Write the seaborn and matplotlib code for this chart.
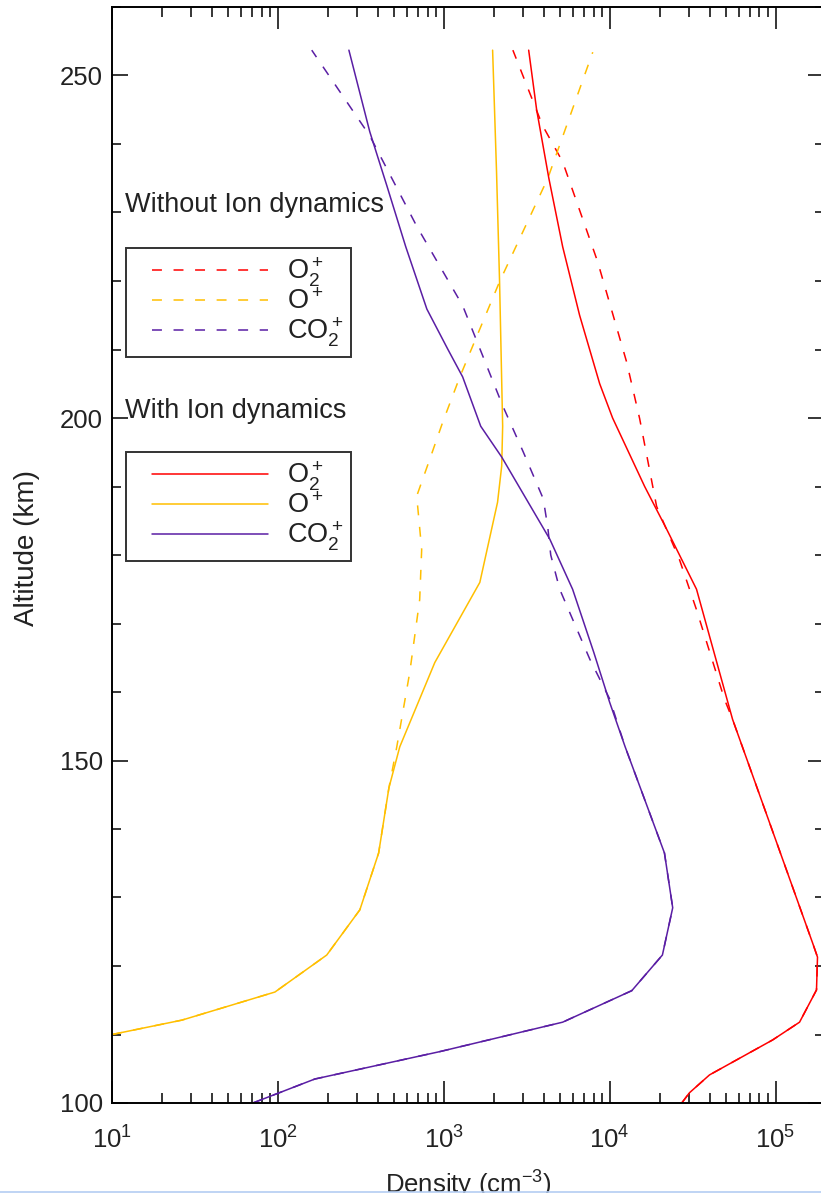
import numpy as np
import pandas as pd
import matplotlib
matplotlib.use("Agg")
import matplotlib.pyplot as plt
import seaborn as sns
from matplotlib.lines import Line2D
from matplotlib.legend_handler import HandlerLine2D
from matplotlib.ticker import MultipleLocator, LogLocator

# ---------------- data (altitude km, density cm^-3) ----------------
alt_o2p_dyn = [100, 101.5, 104.1, 109.2, 111.8, 116.5, 121.3, 123.4, 156, 175, 183.8, 190, 200, 205, 215, 225, 235, 245, 253.7]
den_o2p_dyn = [27200, 30300, 40000, 96000, 139600, 176600, 179100, 167100, 55100, 33400, 22030, 16260, 10420, 8710, 6590, 5210, 4300, 3630, 3250]

alt_o2p_nodyn = [100, 101.5, 104.1, 109.2, 111.8, 116.5, 121.3, 123.4, 156, 158.9, 172, 179.4, 187.1, 199.9, 208.2, 222.8, 237.4, 242.7, 253.7]
den_o2p_nodyn = [27200, 30300, 40000, 96000, 139600, 176600, 179100, 167100, 55100, 49300, 33400, 26300, 19190, 15170, 12650, 8470, 5210, 3940, 2610]

alt_op_dyn = [110, 112.1, 116.2, 121.6, 128.2, 136.5, 146, 152, 164.3, 176, 187.7, 193, 198.8, 219.9, 236, 253.7]
den_op_dyn = [10, 26.4, 96, 197, 312, 405, 467, 543, 883, 1650, 2110, 2235, 2265, 2170, 2080, 1970]

alt_op_nodyn = [110, 112.1, 116.2, 121.6, 128.2, 136.5, 146, 152, 162.9, 173.5, 180.8, 188.6, 194, 199.4, 206, 219.9, 235, 253.4]
den_op_nodyn = [10, 26.4, 96, 197, 312, 405, 467, 521, 624, 716, 736, 687, 824, 986, 1250, 2170, 4240, 7910]

alt_co2p_dyn = [100, 103.5, 107.5, 111.8, 116.4, 121.6, 128.5, 136.5, 152, 158.5, 165.8, 175, 182.3, 194.3, 198.8, 206, 210, 215.9, 225, 233.9, 241.8, 253.7]
den_co2p_dyn = [70.6, 167, 946, 5210, 13600, 20800, 24000, 21400, 12400, 10000, 8020, 5980, 4360, 2235, 1670, 1300, 1060, 791, 590, 454, 358, 268]

alt_co2p_nodyn = [100, 103.5, 107.5, 111.8, 116.4, 121.6, 128.5, 136.5, 152, 159, 164.8, 175, 180, 184, 188.2, 195, 201.8, 216.4, 228, 241.2, 253.7]
den_co2p_nodyn = [70.6, 167, 946, 5210, 13600, 20800, 24000, 21400, 12400, 10000, 7590, 5000, 4415, 4240, 3980, 3020, 2265, 1300, 687, 358, 160]

species = ["O$_2^+$", "O$^+$", "CO$_2^+$"]
colors = ["#ff0000", "#ffbf00", "#5a1ea4"]

# ---------------- style ----------------
sns.set_theme(style="ticks")
plt.rcParams["font.family"] = ["Liberation Sans", "DejaVu Sans"]
plt.rcParams["mathtext.fontset"] = "custom"
plt.rcParams["mathtext.rm"] = "Liberation Sans"
plt.rcParams["mathtext.it"] = "Liberation Sans:italic"
plt.rcParams["mathtext.bf"] = "Liberation Sans:bold"
plt.rcParams["axes.unicode_minus"] = False

W, H = 821, 1193
fig = plt.figure(figsize=(W / 100, H / 100), dpi=100)
ax_l, ax_r, ax_t, ax_b = 112, 824, 7, 1103
ax = fig.add_axes([ax_l / W, 1 - ax_b / H, (ax_r - ax_l) / W, (ax_b - ax_t) / H])

lw = 1.1
dash = (6.5, 7.6)

series = [
    (alt_o2p_nodyn, den_o2p_nodyn, 0, True),
    (alt_op_nodyn, den_op_nodyn, 1, True),
    (alt_co2p_nodyn, den_co2p_nodyn, 2, True),
    (alt_o2p_dyn, den_o2p_dyn, 0, False),
    (alt_op_dyn, den_op_dyn, 1, False),
    (alt_co2p_dyn, den_co2p_dyn, 2, False),
]
for alt, den, ci, dashed in series:
    df = pd.DataFrame({"density": den, "altitude": alt})
    sns.lineplot(data=df, x="density", y="altitude", sort=False, estimator=None,
                 color=colors[ci], lw=lw, ax=ax)
    if dashed:
        ax.lines[-1].set_dashes(dash)

ax.set_xscale("log")
ax.set_xlim(10, 1.96e5)
ax.set_ylim(100, 260)

for s in ax.spines.values():
    s.set_linewidth(1.4)
    s.set_color("black")

ax.yaxis.set_major_locator(MultipleLocator(50))
ax.yaxis.set_minor_locator(MultipleLocator(10))
ax.xaxis.set_major_locator(LogLocator(base=10, numticks=10))
ax.xaxis.set_minor_locator(LogLocator(base=10, subs=np.arange(2, 10), numticks=20))

ax.tick_params(axis="x", which="both", direction="in", top=True, bottom=True, colors="black")
ax.tick_params(axis="y", which="both", direction="in", left=True, right=True, colors="black")
ax.tick_params(axis="x", which="major", length=15.8, width=1.1, pad=17, labelsize=18.5)
ax.tick_params(axis="x", which="minor", length=7.2, width=1.1)
ax.tick_params(axis="y", which="major", length=11.5, width=1.1, pad=6.5, labelsize=18.5)
ax.tick_params(axis="y", which="minor", length=6.5, width=1.1)
for lab in ax.get_xticklabels() + ax.get_yticklabels():
    lab.set_color("#222222")

ax.set_xlabel("Density (cm$^{-3}$)", fontsize=18.5, labelpad=11, color="#222222")
ax.set_ylabel("Altitude (km)", fontsize=20, color="#222222", va="center")
ax.yaxis.set_label_coords((27 - ax_l) / (ax_r - ax_l), (ax_b - 548) / (ax_b - ax_t))

# ---------------- legends ----------------
fs = 19.5
fig.text(125 / W, 1 - 205 / H, "Without Ion dynamics", fontsize=fs, ha="left", va="center", color="#222222")
fig.text(125 / W, 1 - 411 / H, "With Ion dynamics", fontsize=fs, ha="left", va="center", color="#222222")

h_nodyn = [Line2D([], [], color=c, lw=lw, dashes=dash) for c in colors]
h_dyn = [Line2D([], [], color=c, lw=lw) for c in colors]

fspx = fs * 100 / 72
bp = 0.3
xpad = (26 - bp * fspx) / fspx
hmap = {Line2D: HandlerLine2D(xpad=xpad)}
leg_kw = dict(fontsize=fs, frameon=True, fancybox=False, loc="upper left",
              bbox_transform=fig.transFigure, borderaxespad=0,
              handlelength=(116 / fspx) + xpad,
              handletextpad=19 / fspx, labelspacing=0.0, borderpad=bp, handler_map=hmap)
leg1 = ax.legend(h_nodyn, species, bbox_to_anchor=(126 / W, 1 - 248 / H), **leg_kw)
ax.add_artist(leg1)
leg2 = ax.legend(h_dyn, species, bbox_to_anchor=(126 / W, 1 - 452 / H), **leg_kw)
for lg in (leg1, leg2):
    lg.get_frame().set_edgecolor("black")
    lg.get_frame().set_linewidth(1.4)
    for t in lg.get_texts():
        t.set_color("#222222")

# thin light-blue border line at the very bottom, as in the reference screenshot
fig.add_artist(Line2D([0, 1], [0.8 / H, 0.8 / H], transform=fig.transFigure,
                      color="#b4cdf2", lw=1.2))

fig.savefig("out.png", dpi=100)
